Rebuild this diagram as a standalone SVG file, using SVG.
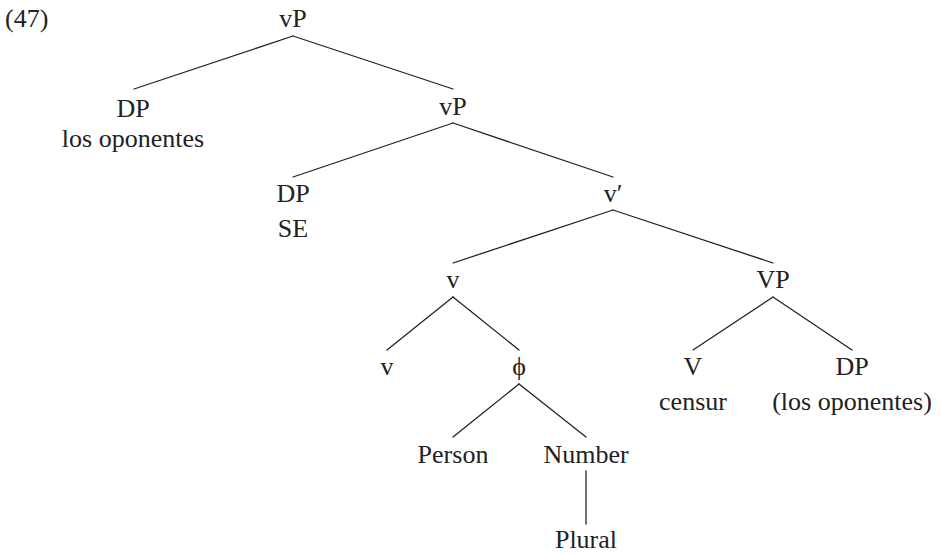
<svg xmlns="http://www.w3.org/2000/svg" width="941" height="554" viewBox="0 0 941 554">
  <style>
    text { font-family: "Liberation Serif", "DejaVu Serif", serif; font-size: 26px; fill: #222; text-anchor: middle; }
    .edge { stroke: #222; stroke-width: 1.3; fill: none; stroke-linecap: round; }
  </style>
  <rect width="941" height="554" fill="#fff"/>
  <text x="5" y="27" style="text-anchor:start">(47)</text>

  <g id="edges">
    <line class="edge" x1="293" y1="36" x2="134" y2="89"/>
    <line class="edge" x1="293" y1="36" x2="453" y2="89"/>
    <line class="edge" x1="453" y1="123" x2="293" y2="177"/>
    <line class="edge" x1="453" y1="123" x2="613" y2="177"/>
    <line class="edge" x1="613" y1="210" x2="453" y2="263"/>
    <line class="edge" x1="613" y1="210" x2="773" y2="263"/>
    <line class="edge" x1="453" y1="297" x2="387" y2="350"/>
    <line class="edge" x1="453" y1="297" x2="519" y2="350"/>
    <line class="edge" x1="519" y1="384" x2="453" y2="437"/>
    <line class="edge" x1="519" y1="384" x2="586" y2="437"/>
    <line class="edge" x1="773" y1="297" x2="693" y2="350"/>
    <line class="edge" x1="773" y1="297" x2="852" y2="350"/>
    <line class="edge" x1="586" y1="471" x2="586" y2="524"/>
  </g>

  <g id="vP-root"><text x="293" y="27">vP</text></g>
  <g id="DP-subject"><text x="133" y="117">DP</text><text x="133" y="147">los oponentes</text></g>
  <g id="vP-inner"><text x="453" y="115">vP</text></g>
  <g id="DP-se"><text x="293" y="202">DP</text><text x="293" y="237">SE</text></g>
  <g id="v-bar"><text x="613" y="202">v′</text></g>
  <g id="v-complex"><text x="453" y="288">v</text></g>
  <g id="VP"><text x="773" y="288">VP</text></g>
  <g id="v-head"><text x="387" y="375">v</text></g>
  <g id="phi"><text x="519" y="375">ϕ</text></g>
  <g id="V-head"><text x="693" y="375">V</text><text x="693" y="410">censur</text></g>
  <g id="DP-object"><text x="852" y="375">DP</text><text x="852" y="410">(los oponentes)</text></g>
  <g id="person"><text x="453" y="463">Person</text></g>
  <g id="number"><text x="586" y="463">Number</text></g>
  <g id="plural"><text x="586" y="548">Plural</text></g>
</svg>
